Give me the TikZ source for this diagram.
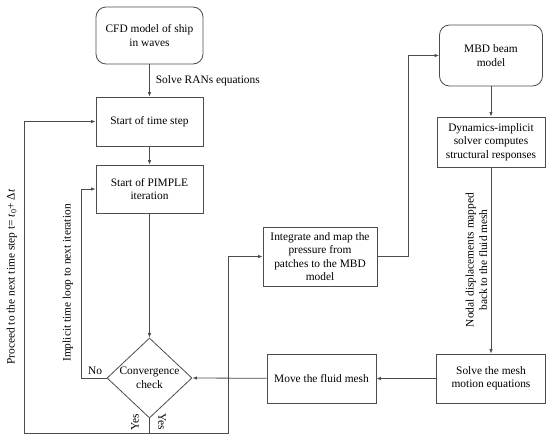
\documentclass[tikz,border=0pt]{standalone}
\usepackage{fontspec}
\setmainfont{Liberation Serif}
\usetikzlibrary{shapes.geometric,arrows.meta}
\begin{document}
\begin{tikzpicture}[x=1pt,y=-1pt,
  font=\fontsize{11.4}{13.5}\selectfont,
  box/.style={draw=black!70,line width=0.8pt,align=center,inner sep=2pt},
  rbox/.style={box,rounded corners=10pt},
  conn/.style={draw=black!70,line width=0.8pt},
  arr/.style={conn,-{Latex[length=4.5pt,width=3.5pt]}},
  lbl/.style={inner sep=0pt,align=center}]
\useasboundingbox (0,0) rectangle (550,440);
% nodes
\node[rbox,minimum width=107pt,minimum height=57pt] (cfd) at (149.5,35.5) {CFD model of ship\\in waves};
\node[box,minimum width=107pt,minimum height=49pt] (ts) at (149.5,121.5) {Start of time step};
\node[box,minimum width=107pt,minimum height=48pt] (pim) at (149.5,189) {Start of PIMPLE\\iteration};
\node[draw=black!70,line width=0.8pt,diamond,minimum width=85pt,minimum height=80pt,inner sep=0pt] (conv) at (149.5,378) {};
\node[lbl] (convtxt) at (149.5,378) {Convergence\\check};
\node[box,minimum width=114pt,minimum height=59pt] (integ) at (320,256.5) {Integrate and map the\\pressure from\\patches to the MBD\\model};
\node[rbox,minimum width=103pt,minimum height=61pt] (mbd) at (491,55.5) {MBD beam\\model};
\node[box,minimum width=108pt,minimum height=50pt] (dyn) at (491,142) {Dynamics-implicit\\solver computes\\structural responses};
\node[box,minimum width=109pt,minimum height=49pt] (solve) at (491,378.5) {Solve the mesh\\motion equations};
\node[box,minimum width=109pt,minimum height=49pt] (move) at (321.5,378.5) {Move the fluid mesh};
% coordinates
\coordinate (bot) at (149.5,433);
\coordinate (bl) at (24,433);
\coordinate (br) at (228,433);
\coordinate (nol) at (81,378);
\coordinate (ir) at (408,256.5);
% connectors
\draw[arr] (cfd) -- node[lbl,right=6pt,pos=0.5] (rans) {Solve RANs equations} (ts);
\draw[arr] (ts) -- (pim);
\draw[arr] (pim) -- (conv.north);
\draw[arr] (conv.west) -- (nol) |- (pim.west);
\draw[conn] (conv.south) -- (bot);
\draw[arr] (bot) -- (bl) |- (ts.west);
\draw[arr] (bot) -- (br) |- (integ.west);
\draw[arr] (integ.east) -- (ir) |- (mbd.west);
\draw[arr] (mbd) -- (dyn);
\draw[arr] (dyn) -- (solve);
\draw[arr] (solve) -- (move);
\draw[arr] (move) -- (conv.east);
% labels
\node[lbl] (no) at (95,371) {No};
\node[lbl,rotate=90] (yes1) at (135,422) {Yes};
\node[lbl,rotate=-90] (yes2) at (162,422) {Yes};
\node[lbl,rotate=90] (proc) at (12,277) {Proceed to the next time step t= \textit{t}\textsubscript{0}+ Δ\textit{t}};
\node[lbl,rotate=90] (impl) at (68,283) {Implicit time loop to next iteration};
\node[lbl,rotate=90] (nodal) at (476.5,260) {Nodal displacements mapped\\back to the fluid mesh};
\end{tikzpicture}
\end{document}
